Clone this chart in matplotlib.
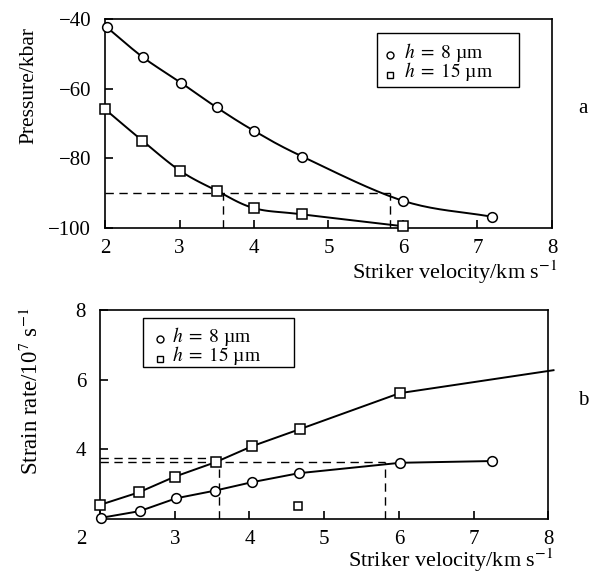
import numpy as np
import matplotlib
matplotlib.use("Agg")
import matplotlib.pyplot as plt
from matplotlib.patches import Rectangle
import matplotlib.transforms as mtransforms

plt.rcParams['font.family'] = ['Liberation Serif', 'DejaVu Serif']
plt.rcParams['mathtext.fontset'] = 'stix'
plt.rcParams['font.size'] = 15

# panel a: pressure vs striker velocity
v8_a = [2.02, 2.51, 3.02, 3.50, 4.00, 4.65, 6.00, 7.20]
p8_a = [-42.3, -51.0, -58.3, -65.4, -72.1, -79.5, -92.2, -96.8]
v15_a = [2.00, 2.50, 3.01, 3.50, 4.00, 4.65, 6.00]
p15_a = [-65.9, -74.9, -83.6, -89.3, -94.3, -96.1, -99.5]
p_level = -89.9
v_marks_a = [3.58, 5.83]

# panel b: strain rate vs striker velocity
v8_b = [2.02, 2.53, 3.02, 3.54, 4.03, 4.66, 6.02, 7.25]
s8_b = [2.03, 2.22, 2.59, 2.81, 3.05, 3.31, 3.61, 3.66]
v15_b = [2.00, 2.52, 3.00, 3.55, 4.04, 4.68, 6.01, 8.07]
s15_b = [2.40, 2.76, 3.21, 3.63, 4.09, 4.58, 5.61, 6.27]
stray_v, stray_s = 4.65, 2.37
s_levels = [3.76, 3.63]
v_marks_b = [3.59, 5.82]

labels = [r'$h\;=\;8$ µm', r'$h\;=\;15$ µm']
markers = ['o', 's']


def smooth(x, y, n=20):
    # Catmull-Rom curve through the points, only for drawing
    x = np.asarray(x, float)
    y = np.asarray(y, float)
    px = np.concatenate([[2 * x[0] - x[1]], x, [2 * x[-1] - x[-2]]])
    py = np.concatenate([[2 * y[0] - y[1]], y, [2 * y[-1] - y[-2]]])
    xs, ys = [], []
    t = np.linspace(0, 1, n, endpoint=False)
    for i in range(1, len(px) - 2):
        for arr, out in ((px, xs), (py, ys)):
            p0, p1, p2, p3 = arr[i - 1], arr[i], arr[i + 1], arr[i + 2]
            out.extend(0.5 * (2 * p1 + (-p0 + p2) * t + (2 * p0 - 5 * p1 + 4 * p2 - p3) * t ** 2
                              + (-p0 + 3 * p1 - 3 * p2 + p3) * t ** 3))
    xs.append(x[-1])
    ys.append(y[-1])
    return xs, ys


def style_axes(ax):
    for s in ['top', 'right', 'left', 'bottom']:
        ax.spines[s].set_linewidth(1.2)
    ax.tick_params(direction='in', length=6, width=1.2, top=False, right=False)
    ax.tick_params(axis='x', pad=8)
    ax.tick_params(axis='y', pad=10)


def add_key(ax, mx, tx, mys, tys, box):
    # hand-placed key: small markers, labels and a plain frame (axes coords)
    for m, lab, my, ty in zip(markers, labels, mys, tys):
        ax.plot([mx], [my], ls='none', marker=m, markersize=5, markerfacecolor='white',
                markeredgecolor='black', markeredgewidth=1.0, transform=ax.transAxes,
                clip_on=False, zorder=5)
        ax.text(tx, ty, lab, transform=ax.transAxes, fontsize=14, va='baseline', ha='left')
    x0, y0, x1, y1 = box
    ax.add_patch(Rectangle((x0, y0), x1 - x0, y1 - y0, transform=ax.transAxes,
                           fill=False, edgecolor='black', lw=1.0, zorder=4))


mk = dict(color='black', lw=1.4, markerfacecolor='white', markeredgecolor='black',
          markeredgewidth=1.1, clip_on=False, zorder=3)
dash = dict(color='black', lw=1.0, ls=(0, (6, 4)), zorder=2)

fig = plt.figure(figsize=(5.97, 5.76), dpi=100)

# ---- panel a ----
ax1 = fig.add_axes([0.1759, 0.6042, 0.7487, 0.3628])
style_axes(ax1)
xs, ys = smooth(v8_a, p8_a)
ax1.plot(xs, ys, color='black', lw=1.4, zorder=2)
xs, ys = smooth(v15_a, p15_a)
ax1.plot(xs, ys, color='black', lw=1.4, zorder=2, clip_on=False)
ax1.plot(v8_a, p8_a, ls='none', marker='o', markersize=7, **mk)
ax1.plot(v15_a, p15_a, ls='none', marker='s', markersize=7, **mk)
ax1.plot([2, v_marks_a[1]], [p_level, p_level], **dash)
for v in v_marks_a:
    ax1.plot([v, v], [-100, p_level], **dash)
ax1.set_xlim(2, 8)
ax1.set_ylim(-100, -40)
ax1.set_xticks([2, 3, 4, 5, 6, 7, 8])
ax1.set_yticks([-100, -80, -60, -40])
ax1.set_ylabel('Pressure/kbar', fontsize=15.5)
ax1.yaxis.set_label_coords(-0.15, 0.68)
ax1.set_xlabel(r'Striker velocity/km s$^{-1}$', fontsize=16)
ax1.xaxis.set_label_coords(1.012, -0.145)
ax1.xaxis.label.set_horizontalalignment('right')
add_key(ax1, 0.6376, 0.669, [0.828, 0.7344], [0.8158, 0.7201], (0.6085, 0.675, 0.926, 0.933))
fig.text(0.977, 0.812, 'a', fontsize=15, ha='center', va='center')

# ---- panel b ----
ax2 = fig.add_axes([0.1675, 0.0993, 0.7509, 0.3625])
style_axes(ax2)
ax2.plot(v8_b, s8_b, marker='o', markersize=7, **mk)
ax2.plot(v15_b[:-1], s15_b[:-1], ls='none', marker='s', markersize=7, **mk)
ax2.plot(v15_b, s15_b, color='black', lw=1.4, clip_on=False, zorder=2)
ax2.plot([stray_v], [stray_s], ls='none', marker='s', markersize=6, **mk)
ax2.plot([2, v_marks_b[0]], [s_levels[0], s_levels[0]], **dash)
ax2.plot([2, v_marks_b[1]], [s_levels[1], s_levels[1]], **dash)
for v in v_marks_b:
    ax2.plot([v, v], [2, s_levels[1]], **dash)
ax2.set_xlim(2, 8)
ax2.set_ylim(2, 8)
ax2.set_xticks([2, 3, 4, 5, 6, 7, 8])
ax2.set_yticks([4, 6, 8])
ax2.set_ylabel(r'Strain rate/10$^7$ s$^{-1}$', fontsize=16.5)
ax2.yaxis.set_label_coords(-0.128, 0.61)
ax2.set_xlabel(r'Striker velocity/km s$^{-1}$', fontsize=16)
ax2.xaxis.set_label_coords(1.012, -0.135)
ax2.xaxis.label.set_horizontalalignment('right')
# the "2" label sits left of the corner in the original
lbl = ax2.get_xticklabels()[0]
lbl.set_transform(lbl.get_transform() + mtransforms.ScaledTranslation(-0.19, 0, fig.dpi_scale_trans))
add_key(ax2, 0.134, 0.1607, [0.861, 0.7677], [0.849, 0.7534], (0.096, 0.727, 0.433, 0.962))
fig.text(0.977, 0.305, 'b', fontsize=15, ha='center', va='center')

fig.savefig('out.png', dpi=100)
